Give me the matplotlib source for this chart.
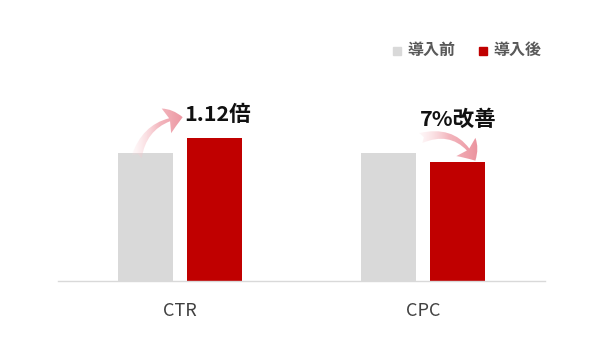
import matplotlib
matplotlib.use("Agg")
import matplotlib.pyplot as plt
from matplotlib.patches import FancyArrowPatch, Rectangle
from matplotlib.colors import LinearSegmentedColormap
import numpy as np

plt.rcParams['font.family'] = ['Noto Sans CJK JP', 'DejaVu Sans']

categories = ["CTR", "CPC"]
series_names = ["導入前", "導入後"]
before = [1.00, 1.00]
after = [1.12, 0.93]
annotations = ["1.12倍", "7%改善"]
colors = ["#d9d9d9", "#c00000"]

W, H = 600, 355
fig = plt.figure(figsize=(6, 3.55), dpi=100)
ax = fig.add_axes([58 / W, (H - 281) / H, (545 - 58) / W, 256 / H])

x = np.arange(len(categories))
width = 0.226
off = 0.142
ax.bar(x - off, before, width, color=colors[0], zorder=2)
ax.bar(x + off, after, width, color=colors[1], zorder=2)

for s in ["top", "right", "left"]:
    ax.spines[s].set_visible(False)
ax.spines["bottom"].set_color("#d9d9d9")
ax.spines["bottom"].set_linewidth(1.0)
ax.set_yticks([])
ax.set_xticks(x)
ax.set_xticklabels(categories, fontsize=13, color="#404040")
ax.tick_params(axis="x", length=0, pad=15)

# annotations
ax.text(x[0] + 0.156, 1.30, annotations[0], ha="center", va="center",
        fontsize=15.5, fontweight="bold", color="#111111")
ax.text(x[1] + 0.144, 1.26, annotations[1], ha="center", va="center",
        fontsize=15.5, fontweight="bold", color="#111111")

# gradient arrows
cmap = LinearSegmentedColormap.from_list(
    "pinkgrad", [(1.0, 0.93, 0.94, 0.0), (0.94, 0.62, 0.66, 0.75), (0.91, 0.52, 0.57, 1.0)])
grad = np.linspace(0, 1, 256).reshape(1, -1)


def grad_arrow(p0, p1, rad):
    arr = FancyArrowPatch(p0, p1, connectionstyle=f"arc3,rad={rad}",
                          arrowstyle="fancy,head_width=1.9,head_length=1.2,tail_width=0.75",
                          mutation_scale=10, shrinkA=0, shrinkB=0,
                          color="none", lw=0, zorder=3)
    ax.add_patch(arr)
    x0, x1 = min(p0[0], p1[0]) - 0.05, max(p0[0], p1[0]) + 0.05
    y0, y1 = min(p0[1], p1[1]) - 0.2, max(p0[1], p1[1]) + 0.2
    im = ax.imshow(grad, extent=[x0, x1, y0, y1], aspect="auto", cmap=cmap,
                   zorder=3, interpolation="bilinear")
    im.set_clip_path(arr)


grad_arrow((x[0] - 0.177, 0.97), (x[0] + 0.012, 1.28), -0.35)
grad_arrow((x[1] - 0.010, 1.117), (x[1] + 0.214, 0.94), -0.42)

ax.set_xlim(-0.5, 1.5)
ax.set_ylim(0, 2.0)

# legend
lx = [393, 479]
for i, name in enumerate(series_names):
    fig.patches.append(Rectangle((lx[i] / W, (H - 55) / H), 8 / W, 8 / H,
                                 transform=fig.transFigure, color=colors[i]))
    fig.text((lx[i] + 14) / W, (H - 50) / H, name, ha="left", va="center",
             fontsize=11.5, fontweight="bold", color="#595959")

fig.savefig("out.png", dpi=100)
